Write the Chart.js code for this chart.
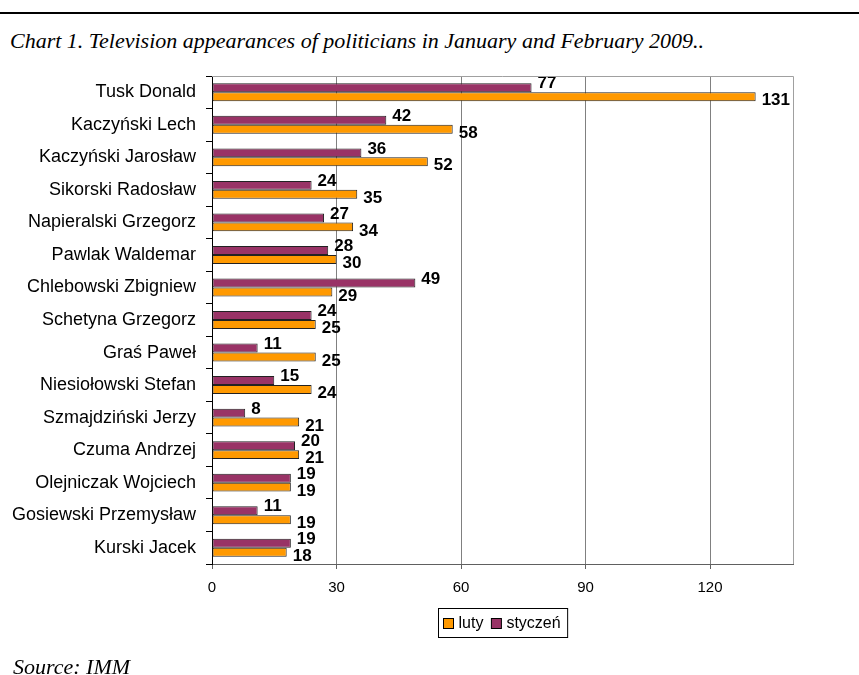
<!DOCTYPE html>
<html>
<head>
<meta charset="utf-8">
<script src="https://cdn.jsdelivr.net/npm/chart.js@4"></script>
<style>
  body { margin: 0; background: #fff; width: 859px; height: 675px; position: relative; overflow: hidden; }
  .rule { position: absolute; left: 0; top: 12px; width: 859px; height: 2px; background: #000; }
  .title, .source { position: absolute; font: italic 22px "Liberation Serif", "Times New Roman", serif; color: #000; white-space: nowrap; }
  .title { left: 10px; top: 28px; }
  .source { left: 13px; top: 654px; }
  canvas { position: absolute; left: 0; top: 0; }
</style>
</head>
<body>
<div class="rule"></div>
<div class="title">Chart 1. Television appearances of politicians in January and February 2009..</div>
<canvas id="myChart" width="859" height="675"></canvas>
<div class="source">Source: IMM</div>
<script>
const politicians = [
    'Tusk Donald', 'Kaczyński Lech', 'Kaczyński Jarosław', 'Sikorski Radosław',
    'Napieralski Grzegorz', 'Pawlak Waldemar', 'Chlebowski Zbigniew', 'Schetyna Grzegorz',
    'Graś Paweł', 'Niesiołowski Stefan', 'Szmajdziński Jerzy', 'Czuma Andrzej',
    'Olejniczak Wojciech', 'Gosiewski Przemysław', 'Kurski Jacek'
];
const styczen = [77, 42, 36, 24, 27, 28, 49, 24, 11, 15, 8, 20, 19, 11, 19];
const luty = [131, 58, 52, 35, 34, 30, 29, 25, 25, 24, 21, 21, 19, 19, 18];
const xTicks = [0, 30, 60, 90, 120];
const xMax = 140;

// value labels next to each bar
const valueLabels = {
    id: 'valueLabels',
    afterDatasetsDraw(chart) {
        const ctx = chart.ctx;
        ctx.save();
        ctx.font = 'bold 17px "Liberation Sans", Arial, sans-serif';
        ctx.fillStyle = '#000';
        ctx.textAlign = 'left';
        ctx.textBaseline = 'middle';
        chart.data.datasets.forEach((ds, i) => {
            const meta = chart.getDatasetMeta(i);
            meta.data.forEach((bar, j) => {
                const dy = i === 0 ? -4 : 4;
                ctx.fillText(ds.data[j], bar.x + 6, bar.y + dy);
            });
        });
        ctx.restore();
    }
};

// grey frame on top and right, and the boxed legend under the axis
const frameAndLegend = {
    id: 'frameAndLegend',
    afterDraw(chart) {
        const ctx = chart.ctx;
        const a = chart.chartArea;
        ctx.save();
        ctx.strokeStyle = '#a0a0a0';
        ctx.lineWidth = 1;
        ctx.beginPath();
        ctx.moveTo(a.left, a.top + 0.5);
        ctx.lineTo(a.right + 0.5, a.top + 0.5);
        ctx.lineTo(a.right + 0.5, a.bottom);
        ctx.stroke();

        const items = chart.data.datasets.slice().reverse();
        ctx.font = '16px "Liberation Sans", Arial, sans-serif';
        const sq = 10, gap = 5, pad = 5, itemGap = 8;
        let w = pad;
        items.forEach((ds, i) => {
            w += sq + gap + ctx.measureText(ds.label).width;
            if (i < items.length - 1) w += itemGap;
        });
        w += pad + 2;
        const h = 29;
        const x0 = Math.round((a.left + a.right) / 2 - w / 2) + 0.5;
        const y0 = a.bottom + 44.5;
        ctx.strokeStyle = '#000';
        ctx.strokeRect(x0, y0, w, h);
        let x = x0 + pad;
        ctx.textBaseline = 'middle';
        items.forEach(ds => {
            ctx.fillStyle = ds.backgroundColor;
            ctx.fillRect(x, y0 + 10, sq, sq);
            ctx.strokeStyle = '#000';
            ctx.strokeRect(x, y0 + 10, sq, sq);
            x += sq + gap;
            ctx.fillStyle = '#000';
            ctx.fillText(ds.label, x, y0 + h / 2 + 1);
            x += ctx.measureText(ds.label).width + itemGap;
        });
        ctx.restore();
    }
};

new Chart(document.getElementById('myChart'), {
    type: 'bar',
    data: {
        labels: politicians,
        datasets: [
            { label: 'styczeń', data: styczen, backgroundColor: '#993366', borderColor: '#222', borderWidth: 1, borderSkipped: false },
            { label: 'luty', data: luty, backgroundColor: '#FF9900', borderColor: '#222', borderWidth: 1, borderSkipped: false }
        ]
    },
    options: {
        indexAxis: 'y',
        responsive: false,
        animation: false,
        devicePixelRatio: 1,
        layout: { padding: { top: 76, right: 66, left: 0, bottom: 71 } },
        categoryPercentage: 0.55,
        barPercentage: 1,
        plugins: {
            legend: { display: false },
            tooltip: { enabled: false }
        },
        scales: {
            x: {
                min: 0,
                max: xMax,
                ticks: {
                    stepSize: 30,
                    color: '#000',
                    padding: 10,
                    font: { family: '"Liberation Sans", Arial, sans-serif', size: 15 }
                },
                afterBuildTicks(scale) {
                    scale.ticks = xTicks.map(v => ({ value: v }));
                },
                afterFit(scale) { scale.height = 40; },
                grid: { color: '#808080', tickLength: 5, tickColor: '#606060' },
                border: { color: '#606060' }
            },
            y: {
                ticks: {
                    color: '#000',
                    padding: 10,
                    font: { family: '"Liberation Sans", Arial, sans-serif', size: 18 }
                },
                afterFit(scale) { scale.width = 212; },
                grid: { offset: true, drawOnChartArea: false, tickLength: 6, color: '#000' },
                border: { color: '#000' }
            }
        }
    },
    plugins: [valueLabels, frameAndLegend]
});
</script>
</body>
</html>
